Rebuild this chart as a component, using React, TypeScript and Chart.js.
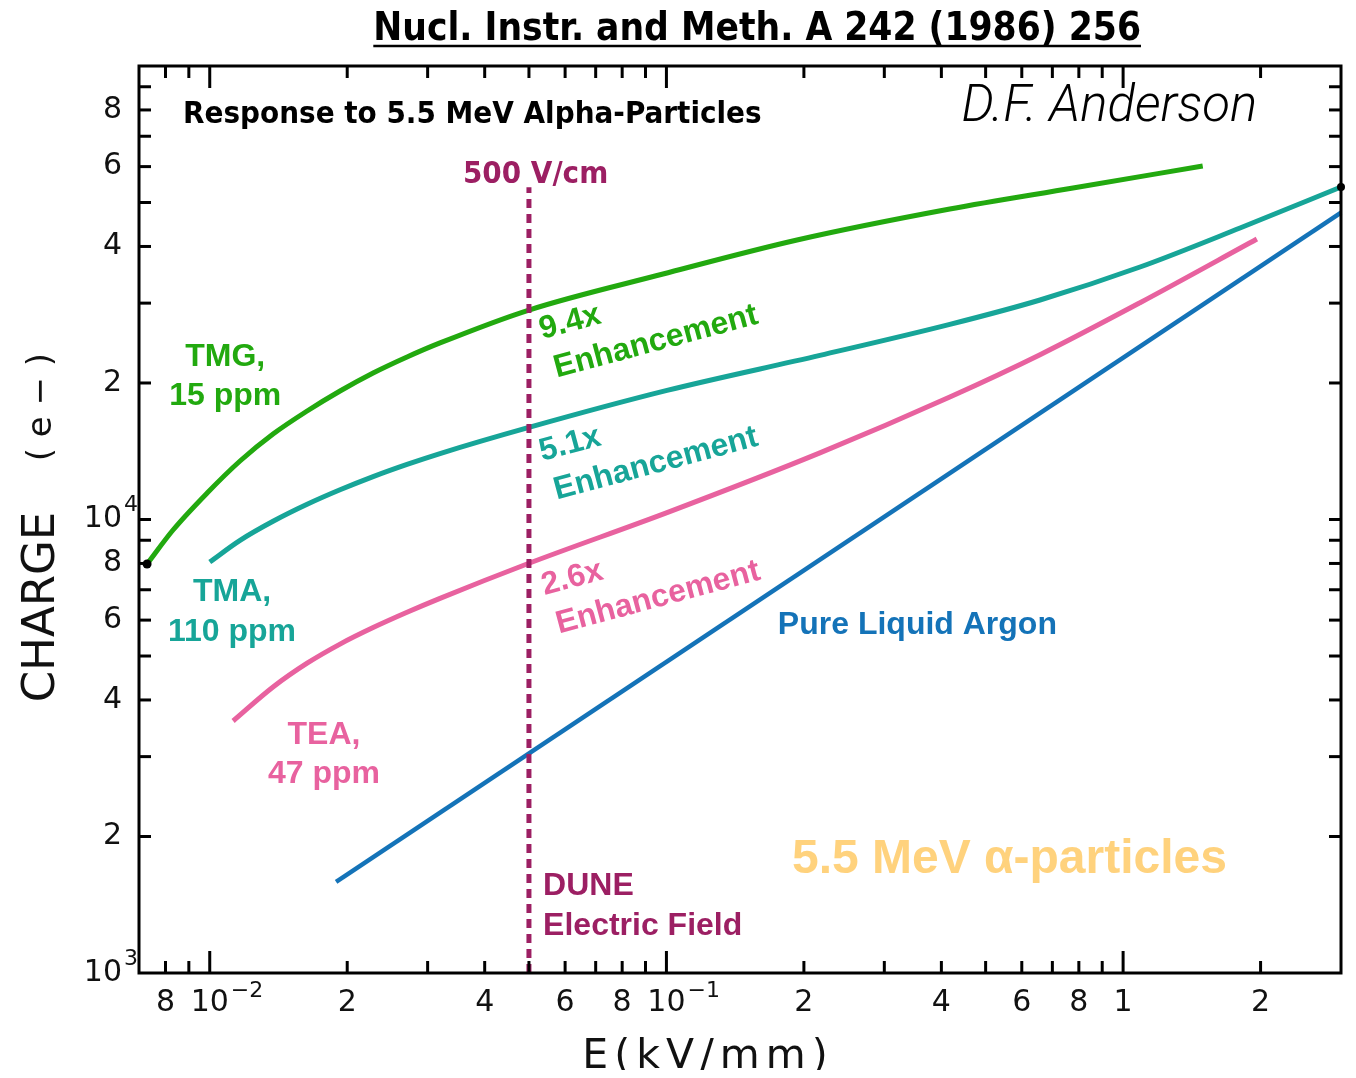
import { useEffect, useRef } from 'react';
import { Chart, registerables } from 'chart.js';

Chart.register(...registerables);

// ---------- data (E in kV/mm, charge in electrons) ----------
const TMG_E = [0.00729, 0.00831, 0.00987, 0.01165, 0.01376, 0.01634, 0.01929, 0.02279, 0.02704, 0.03193, 0.05, 0.0983, 0.1932, 0.4174, 0.7767, 1.494];
const TMG_Q = [7977, 9481, 11441, 13459, 15435, 17349, 19202, 21038, 22822, 24510, 28968, 34779, 41337, 48377, 53818, 60191];

const TMA_E = [0.01, 0.01165, 0.01376, 0.01634, 0.01929, 0.02279, 0.02704, 0.03193, 0.05, 0.1003, 0.2168, 0.4174, 0.6578, 1.089, 1.803, 3.0];
const TMA_Q = [8058, 8994, 9909, 10802, 11627, 12434, 13229, 13978, 15963, 19261, 23007, 26928, 30479, 36038, 43930, 54100];

const TEA_E = [0.01125, 0.01376, 0.01634, 0.01929, 0.02279, 0.02704, 0.03193, 0.05, 0.1003, 0.2168, 0.4174, 0.6578, 1.089, 1.963];
const TEA_Q = [3595, 4272, 4821, 5312, 5776, 6242, 6699, 8007, 10356, 14025, 18627, 23090, 30065, 41545];

const LAR_E = [0.01891, 3.0];
const LAR_Q = [1588, 47500];

const DUNE_E = [0.05, 0.05];
const DUNE_Q = [1000, 54000];

// ---------- axes ----------
const X_MIN = 0.007;
const X_MAX = 3;
const Y_MIN = 1000;
const Y_MAX = 100000;

const X_TICKS = [0.008, 0.009, 0.01, 0.02, 0.03, 0.04, 0.05, 0.06, 0.07, 0.08, 0.09, 0.1, 0.2, 0.3, 0.4, 0.5, 0.6, 0.7, 0.8, 0.9, 1, 2];
const X_DECADES = [0.01, 0.1, 1];
const X_LABEL_VALUES = [0.008, 0.01, 0.02, 0.04, 0.06, 0.08, 0.1, 0.2, 0.4, 0.6, 0.8, 1, 2];
const X_LABEL_TEXT = ['8', '10', '2', '4', '6', '8', '10', '2', '4', '6', '8', '1', '2'];
const X_LABEL_EXP = ['', '−2', '', '', '', '', '−1', '', '', '', '', '', ''];

const Y_TICKS = [2000, 3000, 4000, 5000, 6000, 7000, 8000, 9000, 10000, 20000, 30000, 40000, 50000, 60000, 70000, 80000, 90000];
const Y_LABEL_VALUES = [1000, 2000, 4000, 6000, 8000, 10000, 20000, 40000, 60000, 80000];
const Y_LABEL_TEXT = ['10', '2', '4', '6', '8', '10', '2', '4', '6', '8'];
const Y_LABEL_EXP = ['3', '', '', '', '', '4', '', '', '', ''];

// ---------- colours / fonts ----------
const GREEN = '#22a90f';
const TEAL = '#17a598';
const PINK = '#e8629f';
const BLUE = '#1473b8';
const PURPLE = '#9c1f63';
const ORANGE = '#ffd27d';

const BOLD = '"Liberation Sans", Arial, sans-serif';
const NARROW = '"Liberation Sans Narrow", "DejaVu Sans Condensed", sans-serif';
const PLOT = '"DejaVu Sans", sans-serif';

type Note = { text: string; x: number; y: number; color: string; font: string; align: CanvasTextAlign };
const NOTES: Note[] = [
  { text: 'Response to 5.5 MeV Alpha-Particles', x: 0.00874, y: 77980, color: '#000', font: `bold 31px ${NARROW}`, align: 'left' },
  { text: 'D.F. Anderson', x: 1.966, y: 80800, color: '#000', font: `italic 300 51px Roboto, ${BOLD}`, align: 'right' },
  { text: '500 V/cm', x: 0.03584, y: 57480, color: PURPLE, font: `bold 31px ${NARROW}`, align: 'left' },
  { text: 'TMG,', x: 0.01081, y: 22820, color: GREEN, font: `bold 32px ${BOLD}`, align: 'center' },
  { text: '15 ppm', x: 0.01081, y: 18720, color: GREEN, font: `bold 32px ${BOLD}`, align: 'center' },
  { text: 'TMA,', x: 0.01119, y: 6920, color: TEAL, font: `bold 32px ${BOLD}`, align: 'center' },
  { text: '110 ppm', x: 0.01119, y: 5648, color: TEAL, font: `bold 32px ${BOLD}`, align: 'center' },
  { text: 'TEA,', x: 0.01779, y: 3348, color: PINK, font: `bold 32px ${BOLD}`, align: 'center' },
  { text: '47 ppm', x: 0.01779, y: 2747, color: PINK, font: `bold 32px ${BOLD}`, align: 'center' },
  { text: 'Pure Liquid Argon', x: 0.1754, y: 5852, color: BLUE, font: `bold 32px ${BOLD}`, align: 'left' },
  { text: 'DUNE', x: 0.0537, y: 1555, color: PURPLE, font: `bold 32px ${BOLD}`, align: 'left' },
  { text: 'Electric Field', x: 0.0537, y: 1269, color: PURPLE, font: `bold 32px ${BOLD}`, align: 'left' },
  { text: '5.5 MeV α-particles', x: 0.1883, y: 1775, color: ORANGE, font: `bold 48px ${BOLD}`, align: 'left' },
];

type Block = { lines: string[]; x: number; y: number; color: string; angle: number };
const BLOCKS: Block[] = [
  { lines: ['9.4x', 'Enhancement'], x: 0.0535, y: 25000, color: GREEN, angle: -15 },
  { lines: ['5.1x', 'Enhancement'], x: 0.0535, y: 13460, color: TEAL, angle: -15 },
  { lines: ['2.6x', 'Enhancement'], x: 0.0541, y: 6817, color: PINK, angle: -15 },
];

const TITLE = 'Nucl. Instr. and Meth. A 242 (1986) 256';
const TITLE_X = 0.158;
const TITLE_Y = 120100;
const UNDERLINE_Y = 110700;

const pts = (xs: number[], ys: number[]) => xs.map((v, i) => ({ x: v, y: ys[i] }));

const decor = {
  id: 'decor',
  afterDatasetsDraw(chart: any) {
    const { ctx, chartArea: a } = chart;
    const sx = chart.scales.x;
    const sy = chart.scales.y;
    const line = (x1: number, y1: number, x2: number, y2: number) => {
      ctx.beginPath();
      ctx.moveTo(x1, y1);
      ctx.lineTo(x2, y2);
      ctx.stroke();
    };
    ctx.save();
    // frame
    ctx.strokeStyle = '#000';
    ctx.lineWidth = 3;
    ctx.strokeRect(a.left, a.top, a.right - a.left, a.bottom - a.top);
    // ticks
    X_TICKS.forEach((v) => {
      const px = sx.getPixelForValue(v);
      const len = X_DECADES.includes(v) ? 22 : 12;
      line(px, a.bottom, px, a.bottom - len);
      line(px, a.top, px, a.top + len);
    });
    Y_TICKS.forEach((v) => {
      const py = sy.getPixelForValue(v);
      line(a.left, py, a.left + 12, py);
      line(a.right, py, a.right - 12, py);
    });
    // tick labels
    ctx.fillStyle = '#111';
    ctx.textBaseline = 'middle';
    X_LABEL_VALUES.forEach((v, i) => {
      const px = sx.getPixelForValue(v);
      ctx.font = `30px ${PLOT}`;
      ctx.textAlign = 'center';
      ctx.fillText(X_LABEL_TEXT[i], px, a.bottom + 30);
      if (X_LABEL_EXP[i]) {
        const w = ctx.measureText(X_LABEL_TEXT[i]).width;
        ctx.font = `22px ${PLOT}`;
        ctx.textAlign = 'left';
        ctx.fillText(X_LABEL_EXP[i], px + w / 2 + 2, a.bottom + 18);
      }
    });
    Y_LABEL_VALUES.forEach((v, i) => {
      const py = sy.getPixelForValue(v);
      ctx.font = `30px ${PLOT}`;
      ctx.textAlign = 'right';
      ctx.fillText(Y_LABEL_TEXT[i], a.left - 17, py);
      if (Y_LABEL_EXP[i]) {
        ctx.font = `22px ${PLOT}`;
        ctx.textAlign = 'left';
        ctx.fillText(Y_LABEL_EXP[i], a.left - 15, py - 14);
      }
    });
    // axis titles
    ctx.font = `41px ${PLOT}`;
    ctx.textAlign = 'center';
    (ctx as any).letterSpacing = '6px';
    ctx.fillText('E(kV/mm)', sx.getPixelForValue(0.1233), a.bottom + 84);
    (ctx as any).letterSpacing = '0px';
    ctx.save();
    ctx.translate(a.left - 97, sy.getPixelForValue(6412));
    ctx.rotate(-Math.PI / 2);
    ctx.font = `45px ${PLOT}`;
    ctx.fillText('CHARGE', 0, 0);
    ctx.restore();
    ctx.save();
    ctx.translate(a.left - 97, sy.getPixelForValue(17700));
    ctx.rotate(-Math.PI / 2);
    ctx.font = `34px ${PLOT}`;
    ctx.fillText('( e − )', 0, 0);
    ctx.restore();
    // title
    ctx.font = `bold 38.5px ${NARROW}`;
    ctx.fillStyle = '#000';
    ctx.textAlign = 'center';
    const tx = sx.getPixelForValue(TITLE_X);
    ctx.fillText(TITLE, tx, sy.getPixelForValue(TITLE_Y));
    const tw = ctx.measureText(TITLE).width;
    ctx.lineWidth = 2.5;
    const uy = sy.getPixelForValue(UNDERLINE_Y);
    line(tx - tw / 2, uy, tx + tw / 2, uy);
    // notes
    NOTES.forEach((n) => {
      ctx.font = n.font;
      ctx.fillStyle = n.color;
      ctx.textAlign = n.align;
      ctx.textBaseline = 'middle';
      ctx.fillText(n.text, sx.getPixelForValue(n.x), sy.getPixelForValue(n.y));
    });
    // rotated blocks
    BLOCKS.forEach((b) => {
      ctx.save();
      ctx.translate(sx.getPixelForValue(b.x), sy.getPixelForValue(b.y));
      ctx.rotate((b.angle * Math.PI) / 180);
      ctx.font = `bold 32px ${BOLD}`;
      ctx.fillStyle = b.color;
      ctx.textAlign = 'left';
      ctx.textBaseline = 'alphabetic';
      b.lines.forEach((t, i) => ctx.fillText(t, i === 0 ? 0 : 4, i * 41));
      ctx.restore();
    });
    ctx.restore();
  },
};

export default function App() {
  const ref = useRef<HTMLCanvasElement>(null);
  useEffect(() => {
    if (!ref.current) return;
    const common = { borderWidth: 5, cubicInterpolationMode: 'monotone' as const, clip: false as any, pointBackgroundColor: '#000', pointBorderWidth: 0 };
    const chart = new Chart(ref.current, {
      type: 'line',
      data: {
        datasets: [
          { label: 'DUNE 500 V/cm', data: pts(DUNE_E, DUNE_Q), borderColor: PURPLE, borderWidth: 5, borderDash: [9, 6], pointRadius: 0, clip: false as any },
          { label: 'Pure Liquid Argon', data: pts(LAR_E, LAR_Q), borderColor: BLUE, pointRadius: 0, ...common, borderWidth: 4.5 },
          { label: 'TEA, 47 ppm', data: pts(TEA_E, TEA_Q), borderColor: PINK, pointRadius: 0, ...common },
          { label: 'TMA, 110 ppm', data: pts(TMA_E, TMA_Q), borderColor: TEAL, pointRadius: (c: any) => (c.dataIndex === TMA_E.length - 1 ? 4 : 0), ...common },
          { label: 'TMG, 15 ppm', data: pts(TMG_E, TMG_Q), borderColor: GREEN, pointRadius: (c: any) => (c.dataIndex === 0 ? 4.5 : 0), ...common },
        ],
      },
      options: {
        responsive: false,
        animation: false,
        devicePixelRatio: 1,
        layout: { padding: { left: 131, top: 58, right: 7, bottom: 105 } },
        scales: {
          x: { type: 'logarithmic', min: X_MIN, max: X_MAX, display: false },
          y: { type: 'logarithmic', min: Y_MIN, max: Y_MAX, display: false },
        },
        plugins: { legend: { display: false }, tooltip: { enabled: false } },
      },
      plugins: [decor],
    });
    return () => chart.destroy();
  }, []);
  return (
    <div style={{ width: 1340, height: 1062 }}>
      <canvas ref={ref} width={1340} height={1070} style={{ display: 'block', width: 1340, height: 1070, marginBottom: -8 }} />
    </div>
  );
}
